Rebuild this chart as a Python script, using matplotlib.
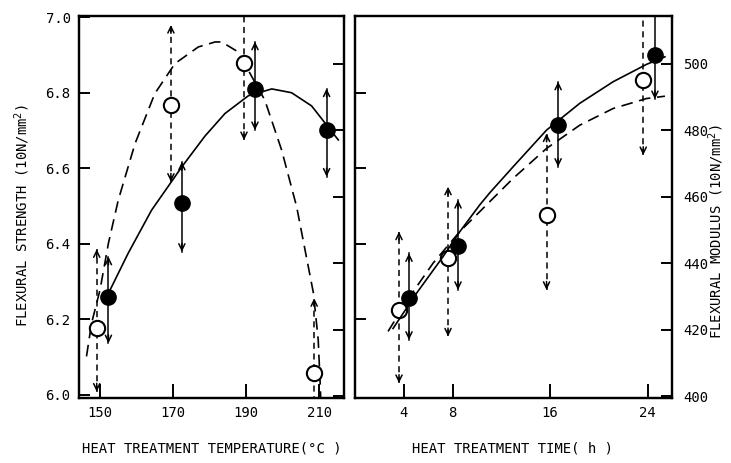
import matplotlib
matplotlib.use("Agg")
import matplotlib.pyplot as plt

plt.rcParams["font.family"] = "DejaVu Sans Mono"

# --- left panel: heat treatment temperature (degC) ---
temp_fs_x  = [152.3, 172.4, 192.4, 212.0]
temp_fs    = [6.258, 6.507, 6.811, 6.700]
temp_fs_hi = [6.366, 6.617, 6.935, 6.811]
temp_fs_lo = [6.137, 6.379, 6.701, 6.578]

temp_fm_x  = [149.1, 169.4, 189.4, 208.6]
temp_fm    = [420.5, 487.5, 500.1, 407.1]
temp_fm_hi = [444.2, 511.6, 520.0, 429.5]
temp_fm_lo = [401.4, 464.5, 477.0, 395.0]

temp_fs_curve_x = [152.3, 157.7, 164.1, 172.4, 178.7, 184.2, 190.6, 197.0, 202.4, 207.9, 215.2]
temp_fs_curve   = [6.269, 6.375, 6.489, 6.604, 6.685, 6.745, 6.792, 6.810, 6.800, 6.765, 6.675]
temp_fm_curve_x = [146.3, 147.7, 150.0, 152.3, 155.0, 159.6, 165.0, 170.5, 176.9, 181.5,
                   183.3, 187.8, 195.1, 199.7, 203.8, 206.1, 208.4, 209.7, 210.2, 210.4]
temp_fm_curve   = [412, 422, 432, 446, 459, 476, 491, 500, 505, 506.5,
                   506.5, 503.5, 489, 474, 457, 444, 431, 417, 405, 399]

# --- right panel: heat treatment time (h) ---
time_fs_h  = [4.43, 8.45, 16.66, 24.6]
time_fs    = [6.256, 6.393, 6.714, 6.900]
time_fs_hi = [6.375, 6.516, 6.829, 7.050]
time_fs_lo = [6.146, 6.278, 6.604, 6.783]

time_fm_h  = [3.61, 7.63, 15.71, 23.64]
time_fm    = [426.0, 441.5, 454.5, 495.0]
time_fm_hi = [449.5, 463.0, 479.0, 520.0]
time_fm_lo = [404.0, 418.0, 432.0, 472.5]

time_fs_curve_h = [3.12, 5.04, 7.22, 8.59, 10.23, 11.05, 12.97, 15.71, 18.44, 21.17, 23.91, 25.42]
time_fs_curve   = [6.176, 6.269, 6.366, 6.432, 6.503, 6.535, 6.604, 6.701, 6.772, 6.829, 6.875, 6.895]
time_fm_curve_h = [2.71, 4.49, 6.40, 8.59, 11.05, 12.97, 15.71, 18.44, 21.17, 23.91, 25.42]
time_fm_curve   = [419.5, 430.0, 440.0, 449.5, 458.5, 465.5, 474.5, 481.5, 486.5, 489.5, 490.2]

FS_TICKS = [6.0, 6.2, 6.4, 6.6, 6.8, 7.0]
FM_TICKS = [400, 420, 440, 460, 480, 500]
FS_LIM = (5.992, 7.003)
FM_LIM = (399.5, 514.3)
DASH_BAR = (0, (4, 3))
DASH_FIT = (0, (7, 4))


def errbar(ax, x, lo, hi, ls):
    # vertical bar with an arrow head at each end (clipped ends get no head)
    ax.plot([x, x], [lo, hi], color="k", lw=1.1, ls=ls, zorder=2)
    for tip, off in ((hi, -6), (lo, 6)):
        ax.annotate("", xy=(x, tip), xytext=(0, off), textcoords="offset points",
                    arrowprops=dict(arrowstyle="->,head_length=0.45,head_width=0.22",
                                    color="k", lw=1.1, shrinkA=0, shrinkB=0))


def panel(rect, xlim, xticks):
    ax = fig.add_axes(rect)
    ax2 = ax.twinx()
    ax.set_xlim(*xlim); ax.set_ylim(*FS_LIM); ax2.set_ylim(*FM_LIM)
    ax.set_xticks(xticks)
    ax.tick_params(axis="x", direction="in", length=10, width=1.4, pad=6, labelsize=10, top=False)
    for a in (ax, ax2):
        for s in a.spines.values():
            s.set_linewidth(1.6)
    ax.set_zorder(ax2.get_zorder() + 1)
    ax.patch.set_visible(False)
    return ax, ax2


fig = plt.figure(figsize=(7.31, 4.63), dpi=100)

# left panel: modulus fit is drawn on the twin axis
ax, ax2 = panel([79/731, 65/463, 265/731, 382/463], (144.25, 216.76), [150, 170, 190, 210])
ax.set_yticks(FS_TICKS)
ax.set_yticklabels([f"{t:.1f}" for t in FS_TICKS])
ax.tick_params(axis="y", direction="in", length=8, width=1.4, pad=6, labelsize=10)
ax2.set_yticks(FM_TICKS)
ax2.tick_params(axis="y", direction="in", length=8, width=1.4, labelright=False)
ax.plot(temp_fs_curve_x, temp_fs_curve, color="k", lw=1.2, zorder=1)
ax2.plot(temp_fm_curve_x, temp_fm_curve, color="k", lw=1.2, ls=DASH_FIT, zorder=1)
for x, lo, hi in zip(temp_fs_x, temp_fs_lo, temp_fs_hi):
    errbar(ax, x, lo, hi, "-")
for x, lo, hi in zip(temp_fm_x, temp_fm_lo, temp_fm_hi):
    errbar(ax2, x, lo, hi, DASH_BAR)
ax2.plot(temp_fm_x, temp_fm, "o", ms=11, mfc="white", mec="k", mew=1.5, zorder=3)
ax.plot(temp_fs_x, temp_fs, "o", ms=11, mfc="k", mec="k", zorder=4)

# right panel
bx, bx2 = panel([355/731, 65/463, 317/731, 382/463], (0, 26.0), [4, 8, 16, 24])
bx.set_yticks([6.2, 6.4, 6.6, 6.8])
bx.tick_params(axis="y", direction="in", length=8, width=1.4, labelleft=False)
bx2.set_yticks(FM_TICKS)
bx2.tick_params(axis="y", direction="in", length=8, width=1.4, pad=8, labelsize=10)
bx.plot(time_fs_curve_h, time_fs_curve, color="k", lw=1.2, zorder=1)
bx2.plot(time_fm_curve_h, time_fm_curve, color="k", lw=1.2, ls=DASH_FIT, zorder=1)
for h, lo, hi in zip(time_fs_h, time_fs_lo, time_fs_hi):
    errbar(bx, h, lo, hi, "-")
for h, lo, hi in zip(time_fm_h, time_fm_lo, time_fm_hi):
    errbar(bx2, h, lo, hi, DASH_BAR)
bx2.plot(time_fm_h, time_fm, "o", ms=11, mfc="white", mec="k", mew=1.5, zorder=3)
bx.plot(time_fs_h, time_fs, "o", ms=11, mfc="k", mec="k", zorder=4)

# axis titles
fig.text(22/731, 1 - 215/463, "FLEXURAL STRENGTH (10N/mm$^2$)", rotation=90,
         ha="center", va="center", fontsize=10)
fig.text(716/731, 1 - 232/463, "FLEXURAL MODULUS (10N/mm$^2$)", rotation=90,
         ha="center", va="center", fontsize=10)
fig.text(212/731, 1 - 448/463, "HEAT TREATMENT TEMPERATURE(\u00b0C )", ha="center", va="center", fontsize=10)
fig.text(512/731, 1 - 448/463, "HEAT TREATMENT TIME( h )", ha="center", va="center", fontsize=10)

fig.savefig("out.png", dpi=100)
